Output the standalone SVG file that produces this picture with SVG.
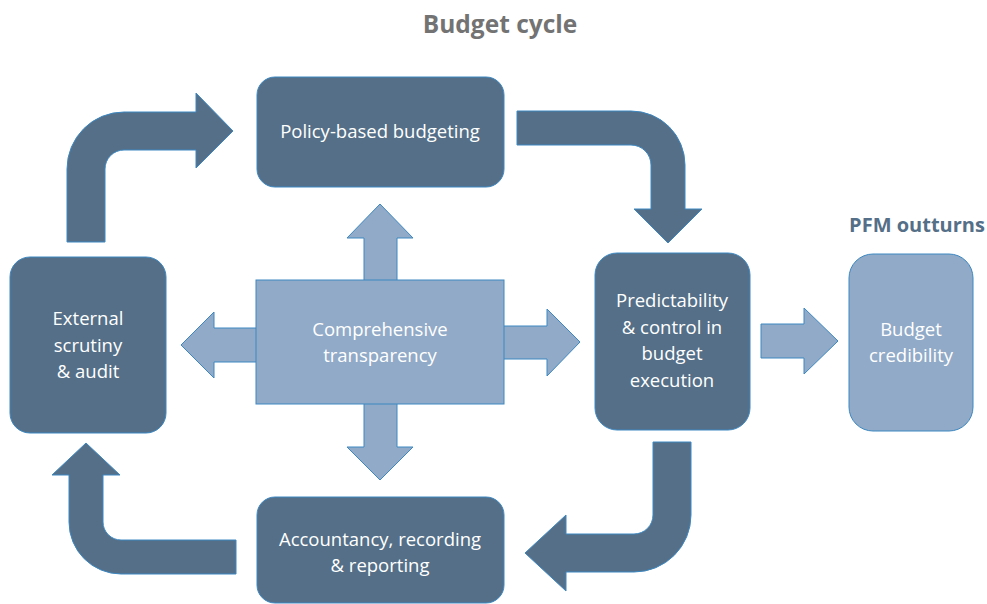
<svg xmlns="http://www.w3.org/2000/svg" width="987" height="604" viewBox="0 0 987 604">
<style>
.dark{fill:#546f87;stroke:#3d88c2;stroke-width:1}
.light{fill:#91aac7;stroke:#3d88c2;stroke-width:1}
.lbl{font-family:"Open Sans","Noto Sans",sans-serif;font-size:18.5px;fill:#ffffff;text-anchor:middle}
.title{font-family:"Open Sans","Noto Sans",sans-serif;font-weight:bold;text-anchor:middle}
</style>
<rect width="987" height="604" fill="#ffffff"/>
<text class="title" x="500" y="33" font-size="24.5" fill="#737373">Budget cycle</text>
<text class="title" x="917" y="232" font-size="20" fill="#546f87">PFM outturns</text>
<g id="connectors">
<path class="dark" d="M67,242 L67,169 A57,57 0 0 1 124,112 L196,112 L196,93 L233,131 L196,168 L196,150 L124,150 A19,19 0 0 0 105,169 L105,242 Z"/>
<path class="dark" d="M517,111 L631,111 A54,54 0 0 1 685,165 L685,209 L702,209 L668,243 L634,209 L651,209 L651,165 A20,20 0 0 0 631,145 L517,145 Z"/>
<path class="dark" d="M653,442 L691,442 L691,515 A57,57 0 0 1 634,572 L566,572 L566,591 L525,553 L566,515 L566,534 L634,534 A19,19 0 0 0 653,515 Z"/>
<path class="dark" d="M236,540 L236,574 L121,574 A52,52 0 0 1 69,522 L69,475 L52,475 L86,443 L120,475 L103,475 L103,522 A18,18 0 0 0 121,540 Z"/>
<polygon class="light" points="364,281 364,238 347,238 380,204 413,238 397,238 397,281"/>
<polygon class="light" points="364,403 364,447 347,447 380,480 413,447 397,447 397,403"/>
<polygon class="light" points="257,328 214,328 214,312 181,345 214,378 214,362 257,362"/>
<polygon class="light" points="503,326 547,326 547,309 580,342 547,376 547,359 503,359"/>
<polygon class="light" points="761,324 804,324 804,308 838,341 804,374 804,358 761,358"/>
</g>
<g id="policy">
<rect class="dark" x="257" y="77" width="247" height="110" rx="18"/>
<text class="lbl" x="380" y="138">Policy-based budgeting</text>
</g>
<g id="external">
<rect class="dark" x="10" y="257" width="156" height="176" rx="20"/>
<text class="lbl" x="88" y="325">External</text>
<text class="lbl" x="88" y="352">scrutiny</text>
<text class="lbl" x="88" y="378">&amp; audit</text>
</g>
<g id="transparency">
<rect class="light" x="256" y="280" width="248" height="124"/>
<text class="lbl" x="380" y="336">Comprehensive</text>
<text class="lbl" x="380" y="362">transparency</text>
</g>
<g id="predictability">
<rect class="dark" x="595" y="253" width="155" height="177" rx="22"/>
<text class="lbl" x="672" y="307">Predictability</text>
<text class="lbl" x="672" y="334">&amp; control in</text>
<text class="lbl" x="672" y="360">budget</text>
<text class="lbl" x="672" y="387">execution</text>
</g>
<g id="credibility">
<rect class="light" x="849" y="254" width="124" height="177" rx="24"/>
<text class="lbl" x="911" y="336">Budget</text>
<text class="lbl" x="911" y="362">credibility</text>
</g>
<g id="accountancy">
<rect class="dark" x="257" y="497" width="247" height="106" rx="18"/>
<text class="lbl" x="380" y="546">Accountancy, recording</text>
<text class="lbl" x="380" y="572">&amp; reporting</text>
</g>
</svg>
